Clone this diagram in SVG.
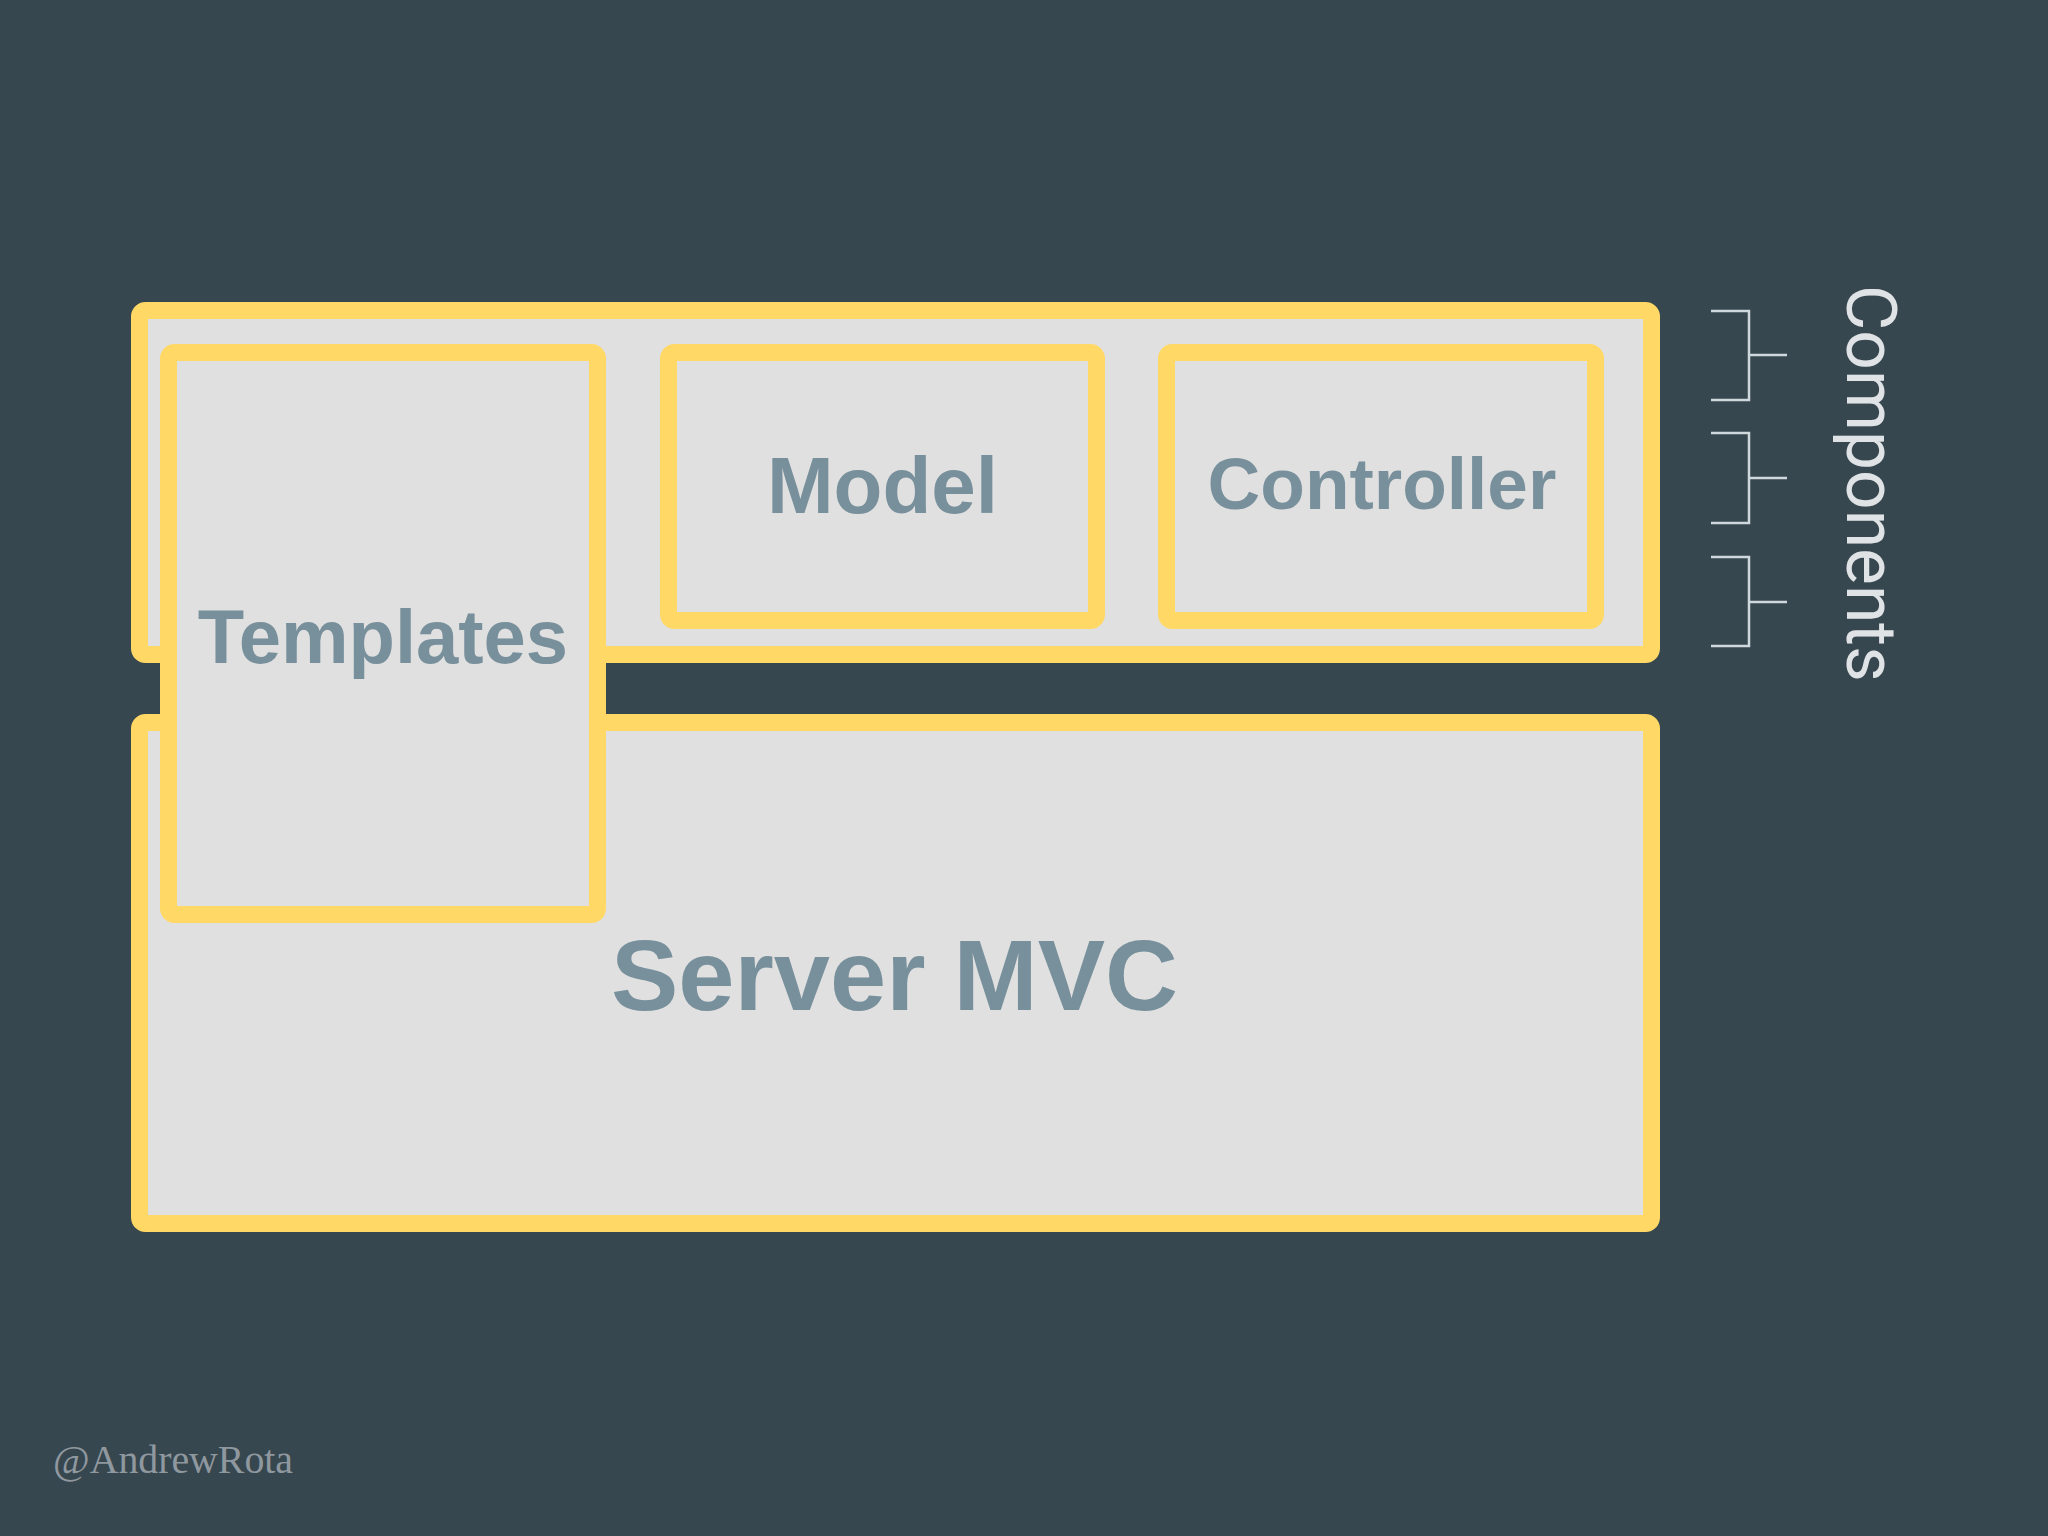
<svg xmlns="http://www.w3.org/2000/svg" width="2048" height="1536" viewBox="0 0 2048 1536">
  <style>
    .box { fill: #e0e0e0; stroke: #ffd866; stroke-width: 17; }
    .label { font-family: "Liberation Sans", Arial, sans-serif; font-weight: bold; fill: #78909c; text-anchor: middle; }
    .bracket { fill: none; stroke: #cfd8dc; stroke-width: 2.5; }
  </style>
  <rect x="0" y="0" width="2048" height="1536" fill="#37474f"/>

  <g id="components-layer">
    <rect class="box" x="139.5" y="310.5" width="1512" height="344" rx="6"/>
  </g>
  <g id="server-mvc">
    <rect class="box" x="139.5" y="722.5" width="1512" height="501" rx="6"/>
    <text class="label" x="611" y="1010" font-size="101" style="text-anchor:start">Server MVC</text>
  </g>
  <g id="model">
    <rect class="box" x="668.5" y="352.5" width="428" height="268" rx="6"/>
    <text class="label" x="882.5" y="513" font-size="80">Model</text>
  </g>
  <g id="controller">
    <rect class="box" x="1166.5" y="352.5" width="429" height="268" rx="6"/>
    <text class="label" x="1382" y="509" font-size="73">Controller</text>
  </g>
  <g id="templates">
    <rect class="box" x="168.5" y="352.5" width="429" height="562" rx="6"/>
    <text class="label" x="383" y="663" font-size="76">Templates</text>
  </g>

  <g id="connectors">
    <path class="bracket" d="M1711 311 H1749 V400 H1711 M1749 355 H1787"/>
    <path class="bracket" d="M1711 433 H1749 V523 H1711 M1749 478 H1787"/>
    <path class="bracket" d="M1711 557 H1749 V646 H1711 M1749 602 H1787"/>
  </g>

  <g id="components-label">
    <text transform="translate(1847,285) rotate(90)" x="0" y="0" font-family="Roboto, 'Liberation Sans', sans-serif" font-weight="400" font-size="70" fill="#e0e3e6" textLength="397" lengthAdjust="spacingAndGlyphs">Components</text>
  </g>

  <g id="watermark">
    <text x="53" y="1473" font-family="'Liberation Serif', 'Times New Roman', serif" font-size="40" fill="#8f989f" textLength="240" lengthAdjust="spacingAndGlyphs">@AndrewRota</text>
  </g>
</svg>
